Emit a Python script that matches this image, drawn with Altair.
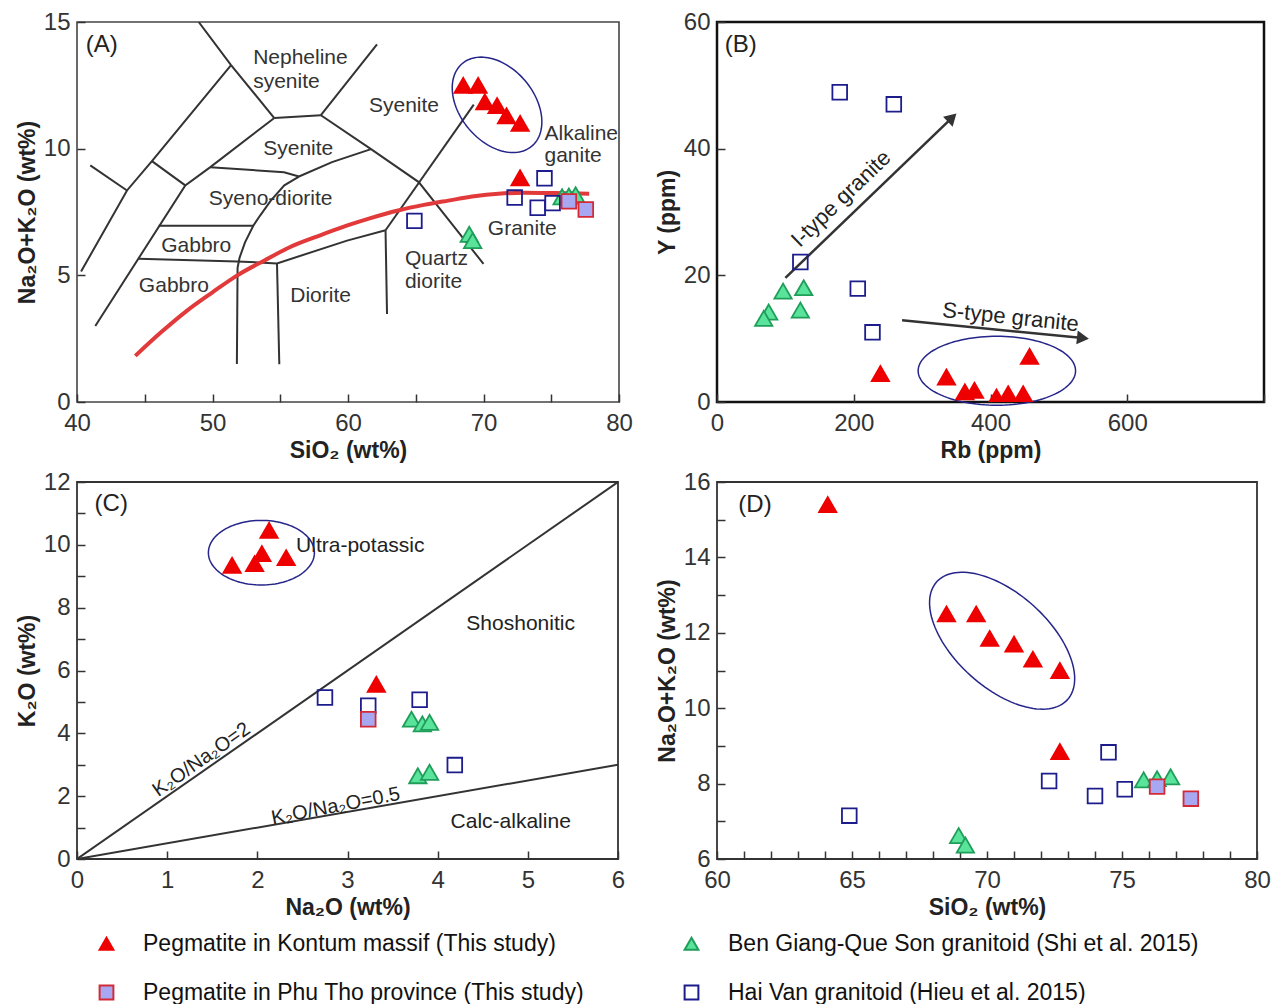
import altair as alt
import numpy as np
import pandas as pd

FONT = "Liberation Sans"
INK = "#333333"

GROUPS = ["Pegmatite in Kontum massif (This study)",
          "Ben Giang-Que Son granitoid (Shi et al. 2015)",
          "Pegmatite in Phu Tho province (This study)",
          "Hai Van granitoid (Hieu et al. 2015)"]
KON, BEN, PHU, HAI = GROUPS
SHAPES = ["triangle-up", "triangle-up", "square", "square"]
FILLS = ["#ee0000", "#5ae39b", "#a8a8f2", "transparent"]
STROKES = ["#ee0000", "#1f9e5a", "#d42a36", "#1c1c8c"]
MARK_SIZE = {KON: 300, BEN: 300, PHU: 215, HAI: 215}

# ---------- (A) and (D): Na2O+K2O vs SiO2 ----------
kon_sio2 = [64.1, 68.5, 69.6, 70.1, 71.0, 71.7, 72.7, 72.7]
kon_alk = [15.4, 12.5, 12.5, 11.85, 11.7, 11.3, 11.0, 8.85]
ben_sio2 = [68.95, 69.2, 75.8, 76.3, 76.8]
ben_alk = [6.62, 6.37, 8.1, 8.13, 8.18]
phu_sio2 = [76.3, 77.55]
phu_alk = [7.92, 7.6]
hai_sio2 = [64.9, 72.3, 74.5, 74.0, 75.1]
hai_alk = [7.15, 8.07, 8.83, 7.67, 7.85]

# ---------- (B): Y vs Rb ----------
kon_rb = [239, 335.6, 362.5, 376.6, 408.8, 425.9, 447.8, 457.1]
kon_y = [4.5, 3.95, 1.6, 1.85, 0.8, 1.3, 1.3, 7.2]
ben_rb = [96.6, 126.8, 121.9, 75.6, 68.3]
ben_y = [17.5, 18.05, 14.5, 14.2, 13.2]
hai_rb = [179.5, 258.6, 121.9, 205.9, 227.4]
hai_y = [48.9, 47.0, 22.1, 17.9, 11.0]

# ---------- (C): K2O vs Na2O ----------
kon_na2o = [1.72, 1.97, 2.05, 2.13, 2.32, 3.32]
kon_k2o = [9.35, 9.40, 9.72, 10.46, 9.59, 5.56]
ben_na2o = [3.71, 3.83, 3.91, 3.78, 3.91]
ben_k2o = [4.45, 4.30, 4.35, 2.65, 2.76]
phu_na2o = [3.23]
phu_k2o = [4.45]
hai_na2o = [2.75, 3.23, 3.80, 4.19]
hai_k2o = [5.14, 4.88, 5.07, 2.99]

# ---------- TAS (plutonic) field boundaries, panel A ----------
tas_boundaries = {
    "b1": [(48.98, 15.0), (51.37, 13.30), (54.56, 11.21)],
    "b2": [(54.56, 11.21), (58.0, 11.32)],
    "b3": [(58.0, 11.32), (62.14, 14.12)],
    "b4": [(58.0, 11.32), (61.7, 9.98), (65.22, 8.68), (67.18, 7.36), (70.0, 5.45)],
    "b5": [(54.56, 11.21), (49.84, 9.27), (47.99, 8.55), (41.35, 3.0)],
    "b6": [(51.37, 13.30), (45.53, 9.51), (43.69, 8.35), (40.3, 5.15)],
    "b7": [(45.53, 9.51), (47.99, 8.55)],
    "b8": [(40.98, 9.34), (43.69, 8.35)],
    "b9": [(49.84, 9.27), (55.28, 9.07), (56.38, 8.9)],
    "b10": [(56.38, 8.9), (58.82, 9.47), (61.7, 9.98)],
    "b11": [(56.38, 8.9), (55.3, 8.55), (54.3, 7.95), (53.5, 7.35), (53.0, 6.95),
            (52.4, 6.3), (52.0, 5.7), (51.85, 5.3), (51.8, 1.5)],
    "b12": [(46.03, 6.96), (53.0, 6.96)],
    "b13": [(44.55, 5.65), (51.81, 5.55), (54.76, 5.47), (59.93, 6.37), (62.77, 6.78)],
    "b14": [(54.76, 5.47), (54.93, 1.49)],
    "b15": [(62.77, 6.78), (62.88, 3.47)],
    "b16": [(62.77, 6.78), (69.28, 11.74)],
}
# alkaline / subalkaline divide (red curve)
divide_sio2 = [44.3, 46.2, 48.1, 50.0, 51.8, 53.8, 55.7, 57.8, 59.9, 61.6, 63.7,
               65.6, 67.4, 69.3, 71.1, 73.0, 74.8, 76.3, 77.8]
divide_alk = [1.82, 2.75, 3.6, 4.33, 4.99, 5.58, 6.11, 6.55, 6.96, 7.25, 7.56,
              7.78, 7.95, 8.12, 8.22, 8.26, 8.25, 8.24, 8.22]

tas_labels = ["Nepheline", "syenite", "Syenite", "Syenite", "Syeno-diorite", "Gabbro",
              "Gabbro", "Diorite", "Quartz", "diorite", "Granite", "Alkaline", "ganite"]
tas_label_x = [53.0, 53.0, 64.13, 56.33, 54.29, 48.8, 47.15, 57.98, 64.2, 64.2, 72.86, 74.5, 74.5]
tas_label_y = [13.58, 12.63, 11.68, 10.0, 8.0, 6.15, 4.57, 4.18, 5.63, 4.74, 6.81, 10.56, 9.73]
tas_label_align = ["left", "left", "center", "center", "center", "center", "center",
                   "center", "left", "left", "center", "left", "left"]

# ---------- C reference lines ----------
ratio_lines = {"r2": [(0, 0), (6, 12)], "r05": [(0, 0), (6, 3)]}

# ---------- annotation ellipses: centre (data), semi-axes (px), tilt (deg) ----------
ell_A = (71.0, 11.73, 54, 37, 50)
ell_B = (409.3, 4.93, 78.7, 34.5, 0)
ell_C = (2.045, 9.75, 53, 32.3, 0)
ell_D = (70.56, 11.79, 88, 47, 42)

# panel sizes (plot areas)
W_A, H_A = 542, 380
W_B, H_B = 547, 380
W_C, H_C = 541, 377
W_D, H_D = 540, 377

# ---------------- helpers ----------------
def pts(sets):
    rows = []
    for g, xs, ys in sets:
        for x, y in zip(xs, ys):
            rows.append({"x": x, "y": y, "group": g, "sz": MARK_SIZE[g]})
    return pd.DataFrame(rows)


def polylines(d):
    rows = []
    for k, seg in d.items():
        for i, (x, y) in enumerate(seg):
            rows.append({"x": x, "y": y, "seg": k, "i": i})
    return pd.DataFrame(rows)


def ellipse(spec, xdom, ydom, w, h):
    cx, cy, a, b, th = spec
    sx = w / (xdom[1] - xdom[0])
    sy = h / (ydom[1] - ydom[0])
    t = np.linspace(0, 2 * np.pi, 121)
    c, s = np.cos(np.radians(th)), np.sin(np.radians(th))
    dx = a * np.cos(t) * c - b * np.sin(t) * s
    dy = a * np.cos(t) * s + b * np.sin(t) * c
    return pd.DataFrame({"x": cx + dx / sx, "y": cy - dy / sy, "i": np.arange(len(t))})


LEG = alt.Legend(title=None, orient="none", legendX=18, legendY=910, direction="horizontal",
                 columns=2, labelFont=FONT, labelFontSize=23, labelColor="#111",
                 labelLimit=1000, symbolSize=190, symbolStrokeWidth=2, rowPadding=25,
                 columnPadding=95, labelOffset=25, padding=0)

shape_enc = alt.Shape("group:N", scale=alt.Scale(domain=GROUPS, range=SHAPES), legend=LEG)
fill_enc = alt.Fill("group:N", scale=alt.Scale(domain=GROUPS, range=FILLS), legend=LEG)
stroke_enc = alt.Stroke("group:N", scale=alt.Scale(domain=GROUPS, range=STROKES), legend=LEG)
size_enc = alt.Size("sz:Q", scale=None, legend=None)


def mk_axis(title, values, label_expr=None, pad=7, tpad=4):
    kw = dict(title=title, values=values, offset=-8, tickSize=8, tickWidth=1.5,
              tickColor=INK, domain=False, grid=False, labelFont=FONT, labelFontSize=24,
              labelColor="#333", labelPadding=pad, labelFlush=False, labelOverlap=False,
              titleFont=FONT, titleFontSize=23, titleFontWeight="bold", titleColor="#222",
              titlePadding=tpad)
    if label_expr:
        kw["labelExpr"] = label_expr
    return alt.Axis(**kw)


def enc_xy(xdom, ydom, xaxis, yaxis):
    X = alt.X("x:Q", scale=alt.Scale(domain=xdom, nice=False, zero=False), axis=xaxis)
    Y = alt.Y("y:Q", scale=alt.Scale(domain=ydom, nice=False, zero=False), axis=yaxis)
    return X, Y


def points_layer(df, X, Y):
    return alt.Chart(df).mark_point(filled=True, strokeWidth=1.8, opacity=1, fillOpacity=1,
                                    clip=True).encode(
        x=X, y=Y, shape=shape_enc, fill=fill_enc, stroke=stroke_enc, size=size_enc)


def lines_layer(df, X, Y, color=INK, width=2.0):
    return alt.Chart(df).mark_line(color=color, strokeWidth=width, clip=True).encode(
        x=X, y=Y, detail="seg:N", order="i:Q")


def ellipse_layer(df, X, Y):
    return alt.Chart(df).mark_line(color="#25258a", strokeWidth=1.5, clip=False).encode(
        x=X, y=Y, order="i:Q")


def tag_layer(txt, x, y, X, Y):
    return alt.Chart(pd.DataFrame({"x": [x], "y": [y], "t": [txt]})).mark_text(
        font=FONT, fontSize=24, color="#222", align="left", baseline="middle").encode(
        x=X, y=Y, text="t:N")


# ---------------- panel A ----------------
xdA, ydA = [40, 80], [0, 15]
XA, YA = enc_xy(xdA, ydA,
                mk_axis("SiO₂ (wt%)", list(range(40, 81, 5)),
                        "datum.value % 10 === 0 ? datum.label : ''", pad=9),
                mk_axis("Na₂O+K₂O (wt%)", [0, 5, 10, 15]))
tas_pts = pts([(BEN, ben_sio2, ben_alk), (HAI, hai_sio2, hai_alk),
               (PHU, phu_sio2, phu_alk), (KON, kon_sio2, kon_alk)])
divide_df = pd.DataFrame({"x": divide_sio2, "y": divide_alk, "seg": "d",
                          "i": range(len(divide_sio2))})
labA = pd.DataFrame({"x": tas_label_x, "y": tas_label_y, "t": tas_labels,
                     "al": tas_label_align})
textA_c = alt.Chart(labA[labA.al == "center"]).mark_text(
    font=FONT, fontSize=21, color="#333", align="center", baseline="middle").encode(
    x=XA, y=YA, text="t:N")
textA_l = alt.Chart(labA[labA.al == "left"]).mark_text(
    font=FONT, fontSize=21, color="#333", align="left", baseline="middle").encode(
    x=XA, y=YA, text="t:N")
panelA = alt.layer(
    lines_layer(polylines(tas_boundaries), XA, YA),
    alt.Chart(divide_df).mark_line(color="#e23a3a", strokeWidth=4, interpolate="monotone",
                                   clip=True).encode(x=XA, y=YA, order="i:Q"),
    textA_c, textA_l,
    ellipse_layer(ellipse(ell_A, xdA, ydA, W_A, H_A), XA, YA),
    points_layer(tas_pts, XA, YA),
    tag_layer("(A)", 40.64, 14.08, XA, YA),
).properties(width=W_A, height=H_A,
             view=alt.ViewBackground(stroke="#444", strokeWidth=1.6))

# ---------------- panel B ----------------
xdB, ydB = [0, 800], [0, 60]
XB, YB = enc_xy(xdB, ydB,
                mk_axis("Rb (ppm)", [0, 200, 400, 600, 800],
                        "datum.value < 800 ? datum.label : ''", pad=9),
                mk_axis("Y (ppm)", [0, 20, 40, 60]))
b_pts = pts([(BEN, ben_rb, ben_y), (HAI, hai_rb, hai_y), (KON, kon_rb, kon_y)])
arrow_shafts = {"I": [(100, 19.6), (343.9, 44.9)], "S": [(270.7, 12.9), (535.2, 10.1)]}
heads = pd.DataFrame({"x": [343.9, 535.2], "y": [44.9, 10.1], "ang": [46, 96]})
panelB = alt.layer(
    lines_layer(polylines(arrow_shafts), XB, YB, color="#333", width=2.5),
    alt.Chart(heads).mark_point(shape="triangle-up", filled=True, size=190, color="#333",
                                opacity=1).encode(
        x=XB, y=YB, angle=alt.Angle("ang:Q", scale=None)),
    alt.Chart(pd.DataFrame({"x": [181.5], "y": [32.1], "t": ["I-type granite"]})).mark_text(
        font=FONT, fontSize=22, color="#222", angle=316, align="center",
        baseline="middle").encode(x=XB, y=YB, text="t:N"),
    alt.Chart(pd.DataFrame({"x": [429.3], "y": [13.4], "t": ["S-type granite"]})).mark_text(
        font=FONT, fontSize=22, color="#222", angle=6, align="center",
        baseline="middle").encode(x=XB, y=YB, text="t:N"),
    ellipse_layer(ellipse(ell_B, xdB, ydB, W_B, H_B), XB, YB),
    points_layer(b_pts, XB, YB),
    tag_layer("(B)", 11.5, 56.4, XB, YB),
).properties(width=W_B, height=H_B,
             view=alt.ViewBackground(stroke="#111", strokeWidth=2.5))

# ---------------- panel C ----------------
xdC, ydC = [0, 6], [0, 12]
XC, YC = enc_xy(xdC, ydC,
                mk_axis("Na₂O (wt%)", list(range(0, 7)), pad=9),
                mk_axis("K₂O (wt%)", list(range(0, 13)),
                        "datum.value % 2 === 0 ? datum.label : ''"))
c_pts = pts([(BEN, ben_na2o, ben_k2o), (HAI, hai_na2o, hai_k2o),
             (PHU, phu_na2o, phu_k2o), (KON, kon_na2o, kon_k2o)])
c_text = pd.DataFrame({"x": [4.92, 4.81], "y": [7.48, 1.17], "t": ["Shoshonitic", "Calc-alkaline"]})
panelC = alt.layer(
    lines_layer(polylines(ratio_lines), XC, YC, width=2.0),
    alt.Chart(c_text).mark_text(font=FONT, fontSize=21, color="#222", align="center",
                                baseline="middle").encode(x=XC, y=YC, text="t:N"),
    alt.Chart(pd.DataFrame({"x": [2.43], "y": [9.95], "t": ["Ultra-potassic"]})).mark_text(
        font=FONT, fontSize=21, color="#222", align="left", baseline="middle").encode(
        x=XC, y=YC, text="t:N"),
    alt.Chart(pd.DataFrame({"x": [1.38], "y": [3.16], "t": ["K₂O/Na₂O=2"]})).mark_text(
        font=FONT, fontSize=20, color="#222", angle=325, align="center",
        baseline="middle").encode(x=XC, y=YC, text="t:N"),
    alt.Chart(pd.DataFrame({"x": [2.87], "y": [1.68], "t": ["K₂O/Na₂O=0.5"]})).mark_text(
        font=FONT, fontSize=20, color="#222", angle=349, align="center",
        baseline="middle").encode(x=XC, y=YC, text="t:N"),
    ellipse_layer(ellipse(ell_C, xdC, ydC, W_C, H_C), XC, YC),
    points_layer(c_pts, XC, YC),
    tag_layer("(C)", 0.195, 11.3, XC, YC),
).properties(width=W_C, height=H_C,
             view=alt.ViewBackground(stroke="#333", strokeWidth=1.8))

# ---------------- panel D ----------------
xdD, ydD = [60, 80], [6, 16]
XD, YD = enc_xy(xdD, ydD,
                mk_axis("SiO₂ (wt%)", list(range(60, 81)),
                        "datum.value % 5 === 0 ? datum.label : ''", pad=9),
                mk_axis("Na₂O+K₂O (wt%)", list(range(6, 17)),
                        "datum.value % 2 === 0 ? datum.label : ''"))
panelD = alt.layer(
    ellipse_layer(ellipse(ell_D, xdD, ydD, W_D, H_D), XD, YD),
    points_layer(tas_pts, XD, YD),
    tag_layer("(D)", 60.79, 15.4, XD, YD),
).properties(width=W_D, height=H_D,
             view=alt.ViewBackground(stroke="#333", strokeWidth=1.8))

chart = alt.concat(panelA, panelB, panelC, panelD, columns=2,
                   spacing={"row": 5, "column": 21}).properties(
    padding={"left": 7, "top": 0, "right": 0, "bottom": 0}
).configure(font=FONT)

chart.save("out.html", embed_options={"renderer": "svg", "actions": False})
